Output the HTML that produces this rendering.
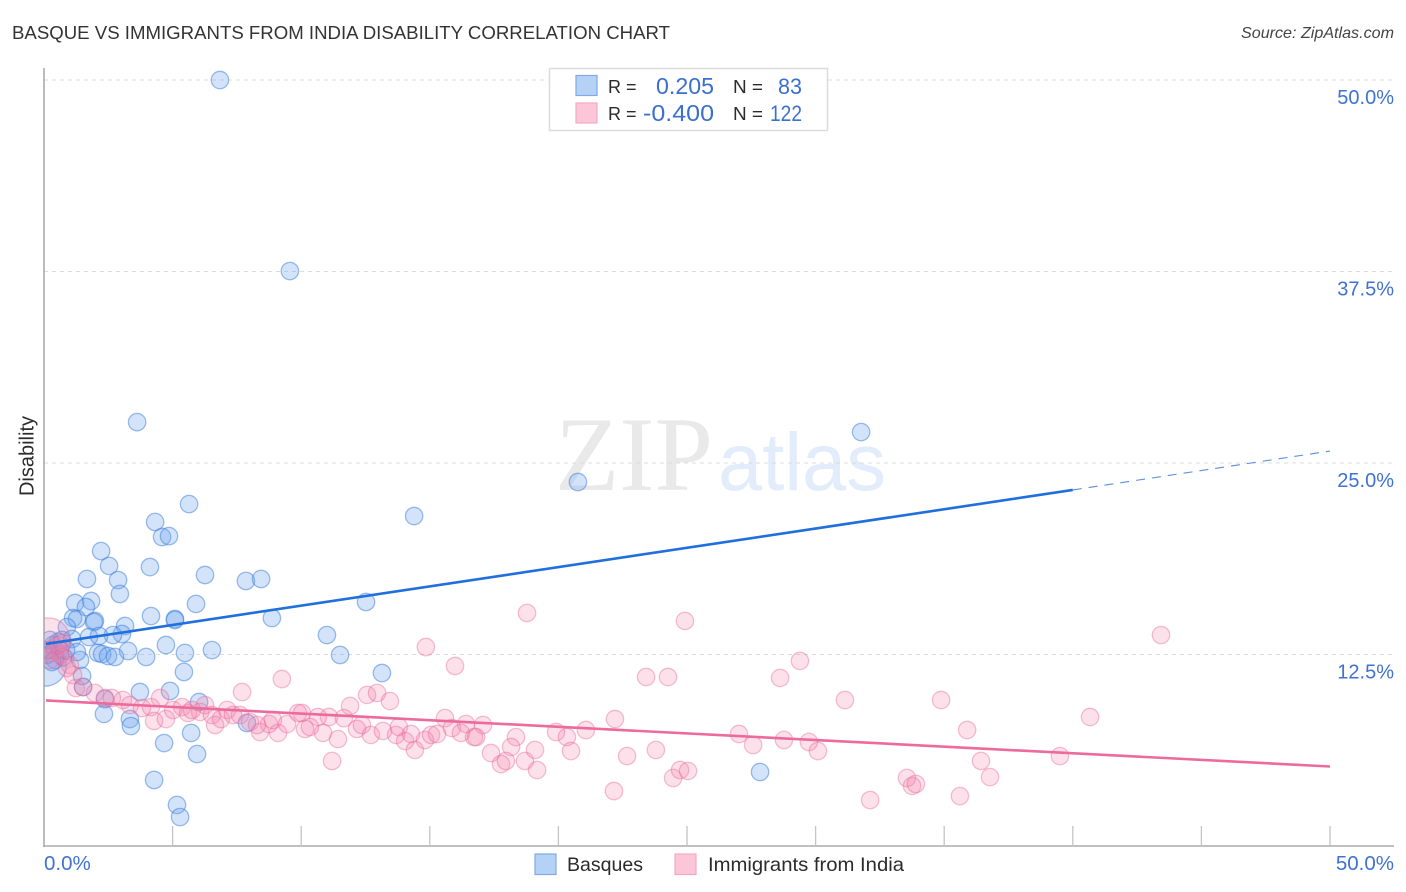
<!DOCTYPE html>
<html lang="en">
<head>
<meta charset="utf-8">
<title>Basque vs Immigrants from India Disability Correlation Chart</title>
<style>
html,body{margin:0;padding:0;background:#fff;width:1406px;height:892px;overflow:hidden}
svg{display:block;font-family:"Liberation Sans",Arial,sans-serif}
</style>
</head>
<body>
<svg id="chart" width="1406" height="892" viewBox="0 0 1406 892" xmlns="http://www.w3.org/2000/svg">
  <defs>
    <clipPath id="plot-clip"><rect x="44.5" y="60" width="1350" height="786"/></clipPath>
  </defs>
  <rect x="0" y="0" width="1406" height="892" fill="#fff"/>

  <text x="12" y="39" font-size="18.5" fill="#333" textLength="658" lengthAdjust="spacingAndGlyphs">BASQUE VS IMMIGRANTS FROM INDIA DISABILITY CORRELATION CHART</text>
  <text x="1394" y="38" font-size="16" font-style="italic" fill="#444" text-anchor="end" textLength="153" lengthAdjust="spacingAndGlyphs">Source: ZipAtlas.com</text>

  <g>
    <text x="555" y="490" font-family="'Liberation Serif',serif" font-size="106" fill="#e9e9e9" textLength="158" lengthAdjust="spacingAndGlyphs">ZIP</text>
    <text x="718" y="490" font-size="82" fill="#e2ecfa" textLength="168" lengthAdjust="spacingAndGlyphs">atlas</text>
  </g>

  <g id="grid"></g>
  <g id="axes"></g>
  <g id="points-basques" clip-path="url(#plot-clip)"></g>
  <g id="points-india" clip-path="url(#plot-clip)"></g>
  <g id="trends"></g>
  <g id="tick-labels"></g>

  <text transform="translate(33.5,456) rotate(-90)" font-size="20" fill="#2b2b2b" text-anchor="middle">Disability</text>

  <g>
    <rect x="549.5" y="68.5" width="278" height="62" fill="#fff" stroke="#dcdcdc" stroke-width="1.5"/>
    <rect x="576" y="75.5" width="21" height="20" fill="#b5d2f6" stroke="#7eabe6" stroke-width="1.2"/>
    <rect x="576" y="103" width="21" height="20" fill="#fcc6d9" stroke="#f6a8c2" stroke-width="1.2"/>
    <text x="608" y="93" font-size="18" fill="#2b2b2b">R =</text>
    <text x="656" y="94" font-size="23" fill="#3b6fd0" textLength="58" lengthAdjust="spacingAndGlyphs">0.205</text>
    <text x="733" y="93" font-size="18" fill="#2b2b2b" textLength="30" lengthAdjust="spacingAndGlyphs">N =</text>
    <text x="778" y="94" font-size="22" fill="#3b6fd0" textLength="24" lengthAdjust="spacingAndGlyphs">83</text>
    <text x="608" y="120" font-size="18" fill="#2b2b2b">R =</text>
    <text x="643" y="121" font-size="23" fill="#3b6fd0" textLength="71" lengthAdjust="spacingAndGlyphs">-0.400</text>
    <text x="733" y="120" font-size="18" fill="#2b2b2b" textLength="30" lengthAdjust="spacingAndGlyphs">N =</text>
    <text x="770" y="121" font-size="22" fill="#3b6fd0" textLength="32" lengthAdjust="spacingAndGlyphs">122</text>
  </g>

  <g>
    <rect x="535" y="854" width="21" height="20.5" fill="#b5d2f6" stroke="#7eabe6" stroke-width="1.2"/>
    <text x="567" y="871" font-size="19.5" fill="#2b2b2b" textLength="76" lengthAdjust="spacingAndGlyphs">Basques</text>
    <rect x="675" y="854" width="21" height="20.5" fill="#fcc6d9" stroke="#f6a8c2" stroke-width="1.2"/>
    <text x="708" y="871" font-size="19.5" fill="#2b2b2b" textLength="196" lengthAdjust="spacingAndGlyphs">Immigrants from India</text>
  </g>
</svg>

<script>
const xTickValues = [0,5,10,15,20,25,30,35,40,45,50];
const xLabelValues = [0,50];
const xLabelTexts = ["0.0%","50.0%"];
const yTickValues = [12.5,25,37.5,50];
const yTickTexts = ["12.5%","25.0%","37.5%","50.0%"];

const basquesX = [6.84,9.56,3.62,31.77,20.76,5.64,14.39,4.32,4.59,4.86,2.22,2.53,4.12,6.26,1.67,2.88,7.85,8.44,2.95,12.52,1.21,1.83,5.91,1.63,1.13,1.28,4.16,5.09,5.09,8.86,1.98,1.94,3.15,0.89,11.00,3.03,2.68,1.75,2.14,1.09,4.74,6.53,3.27,2.10,2.26,2.49,2.76,3.97,5.48,11.51,1.40,1.28,5.44,13.14,3.73,4.90,6.03,2.33,3.34,3.38,5.72,4.67,5.95,4.28,5.17,5.29,7.89,27.84,1.52,1.48,2.37,0.23,0.35,0.54,0.62,0.74,0.12,0.43,0.31,0.70,0.86,0.23];
const basquesY = [50.0,37.53,27.67,27.02,23.76,22.32,21.54,21.15,20.17,20.23,19.25,18.28,18.21,17.69,17.43,17.36,17.30,17.43,16.45,15.93,15.86,15.99,15.80,15.60,14.88,14.82,15.01,14.82,14.75,14.88,14.69,14.62,14.36,14.29,13.77,13.84,13.77,13.64,13.71,13.51,13.12,12.79,12.73,12.60,12.53,12.40,12.34,12.34,12.60,12.47,12.14,12.66,11.36,11.29,10.05,10.12,9.40,8.62,8.29,7.83,7.38,6.72,6.00,4.31,2.68,1.89,8.03,4.83,10.38,11.10,9.59,12.79,13.12,13.32,12.79,12.34,12.47,12.14,12.01,13.45,12.79,13.45];
const basquesLargeX = [0.05];
const basquesLargeY = [11.81];

const indiaX = [18.78,24.92,43.43,14.85,15.98,29.39,9.25,23.41,24.26,28.62,7.70,12.56,12.95,13.45,31.14,34.88,40.67,35.89,11.90,11.08,11.66,10.65,15.59,16.41,17.07,15.86,16.21,16.72,16.80,19.91,20.33,21.07,22.20,18.35,18.16,17.38,17.77,17.96,18.70,19.09,19.17,20.49,22.16,11.20,11.43,10.85,12.17,12.36,12.71,13.18,13.69,13.80,14.04,14.27,14.42,14.81,15.05,15.28,1.24,1.52,1.98,2.37,2.64,3.07,3.34,3.81,4.16,4.51,4.28,4.74,5.02,5.37,5.60,6.07,6.26,5.75,6.53,6.65,6.88,7.12,7.35,7.62,8.01,8.40,8.75,8.28,9.10,8.90,9.45,9.88,10.03,10.34,10.15,27.02,27.57,28.77,29.74,30.09,23.79,22.67,36.43,36.78,39.50,33.55,33.75,33.90,35.61,32.12,24.46,24.73,25.04,0.43,0.62,0.82,1.01,0.23,0.54,0.70,1.13,0.89,0.12];
const indiaY = [15.21,14.69,13.77,12.99,11.75,12.08,10.90,11.03,11.03,10.97,10.05,9.86,9.99,9.46,9.53,9.53,8.42,7.57,9.14,8.42,8.35,8.42,8.35,7.96,7.90,7.70,7.38,7.11,7.11,7.44,7.11,7.57,8.29,7.11,6.46,6.07,5.35,5.55,5.55,6.27,4.96,6.20,3.59,5.55,6.98,7.38,7.64,7.90,7.25,7.51,7.25,7.77,6.85,7.31,6.27,6.92,7.25,7.31,10.31,10.38,9.99,9.66,9.66,9.53,9.20,9.01,9.07,9.66,8.16,8.29,8.88,9.07,8.68,8.75,9.20,8.88,8.55,7.90,8.29,8.88,8.55,8.55,8.09,7.44,7.96,7.90,7.38,8.22,7.96,8.68,8.68,7.77,7.64,7.31,6.59,6.92,6.79,6.20,6.27,5.87,5.55,4.50,5.87,4.44,3.92,4.05,3.26,3.00,4.44,4.96,4.90,12.79,12.47,12.27,11.81,12.14,13.12,13.25,11.16,11.62,12.79];
const indiaLargeX = [0.16];
const indiaLargeY = [13.45];

const basquesTrendX = [0,40,50];
const basquesTrendY = [13.17,23.24,25.78];
const indiaTrendX = [0,50];
const indiaTrendY = [9.5,5.19];

const NS = "http://www.w3.org/2000/svg";
const xScale = v => 44 + v * 25.72;
const yScale = v => 846 - v * 15.32;

function make(parent, tag, attrs) {
  const el = document.createElementNS(NS, tag);
  for (const k in attrs) el.setAttribute(k, attrs[k]);
  parent.appendChild(el);
  return el;
}

const grid = document.getElementById("grid");
const axes = document.getElementById("axes");
const labels = document.getElementById("tick-labels");

yTickValues.forEach((v) => {
  const line = make(grid, "line", {x1: 44, x2: 1394, y1: yScale(v), y2: yScale(v), stroke: "#dcdcdc", "stroke-width": 1, "stroke-dasharray": "4 4"});
  
  
});

const yAxisLine = make(axes, "line", {x1: 44, x2: 44, y1: 68, y2: 847, stroke: "#ababab", "stroke-width": 1.6});


const xAxisLine = make(axes, "line", {x1: 43, x2: 1394, y1: 846, y2: 846, stroke: "#ababab", "stroke-width": 1.6});



xTickValues.forEach((v) => {
  if (v === 0) return;
  const tick = make(axes, "line", {x1: xScale(v), x2: xScale(v), y1: 826, y2: 846, stroke: "#c4c4c4", "stroke-width": 1.3});
  
  
});

yTickValues.forEach((v, i) => {
  const t = make(labels, "text", {x: 1394, y: yScale(v) + 24, "font-size": 20, fill: "#3f72d2", "text-anchor": "end"});
  t.textContent = yTickTexts[i];
  
  
});

xLabelValues.forEach((v, i) => {
  const anchor = v === 0 ? "start" : "end";
  const px = v === 0 ? xScale(v) : 1394;
  const t = make(labels, "text", {x: px, y: 870, "font-size": 20.5, fill: "#3f72d2", "text-anchor": anchor});
  t.textContent = xLabelTexts[i];
  
  
});

function drawPoints(groupId, xs, ys, radius, fill, stroke) {
  const g = document.getElementById(groupId);
  xs.forEach((x, i) => {
    const c = make(g, "circle", {cx: xScale(x), cy: yScale(ys[i]), r: radius, fill: fill, stroke: stroke, "stroke-width": 1.3});
    
    
  });
}

const blueFill = "rgba(110,165,240,0.31)";
const blueStroke = "rgba(60,125,220,0.5)";
const pinkFill = "rgba(245,130,170,0.25)";
const pinkStroke = "rgba(232,100,150,0.4)";

drawPoints("points-basques", basquesLargeX, basquesLargeY, 21, blueFill, blueStroke);
drawPoints("points-basques", basquesX, basquesY, 8.7, blueFill, blueStroke);
drawPoints("points-india", indiaLargeX, indiaLargeY, 22, pinkFill, pinkStroke);
drawPoints("points-india", indiaX, indiaY, 8.7, pinkFill, pinkStroke);

const trends = document.getElementById("trends");
const blueSolid = make(trends, "line", {x1: xScale(basquesTrendX[0]) + 2, y1: yScale(basquesTrendY[0] + (basquesTrendY[1] - basquesTrendY[0]) * 2 / (xScale(basquesTrendX[1]) - xScale(basquesTrendX[0]))), x2: xScale(basquesTrendX[1]), y2: yScale(basquesTrendY[1]), stroke: "#1f6fdc", "stroke-width": 2.6});


const blueDash = make(trends, "line", {x1: xScale(basquesTrendX[1]), y1: yScale(basquesTrendY[1]), x2: xScale(basquesTrendX[2]), y2: yScale(basquesTrendY[2]), stroke: "#5a8fdc", "stroke-width": 1.1, "stroke-dasharray": "9 7"});


const pinkSolid = make(trends, "line", {x1: xScale(indiaTrendX[0]) + 2, y1: yScale(indiaTrendY[0]), x2: xScale(indiaTrendX[1]), y2: yScale(indiaTrendY[1]), stroke: "#ec6a9c", "stroke-width": 2.6});


</script>
</body>
</html>
